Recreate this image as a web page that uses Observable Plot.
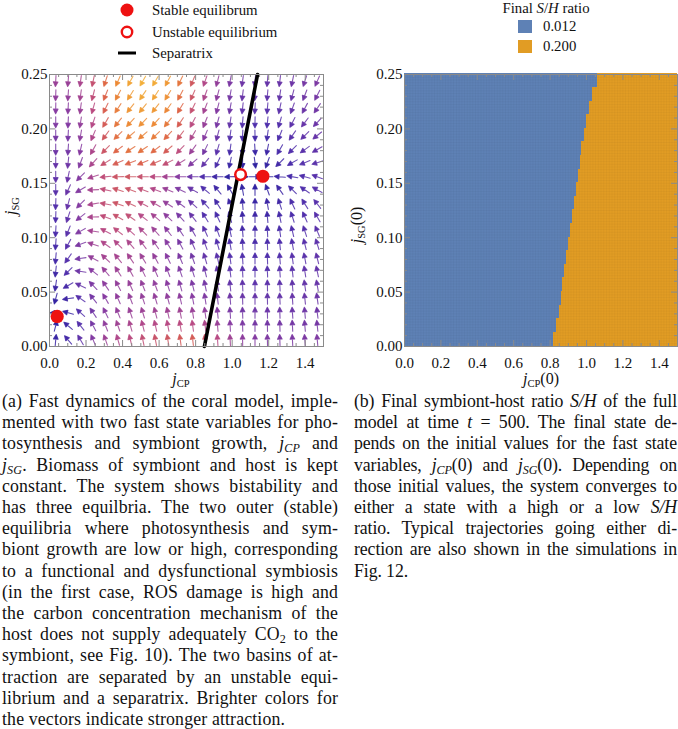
<!DOCTYPE html>
<html><head><meta charset="utf-8">
<script src="https://cdn.jsdelivr.net/npm/d3@7"></script>
<script src="https://cdn.jsdelivr.net/npm/@observablehq/plot@0.6"></script>
<style>
body{margin:0;background:#fff;}
#root{position:relative;width:678px;height:729px;overflow:hidden;font-family:"Liberation Serif","Times New Roman",serif;color:#111;}
.cap{position:absolute;font-size:17.8px;line-height:21.2px;letter-spacing:0.1px;}
.cap div{white-space:nowrap;text-align:justify;text-align-last:justify;}
.cap div.last{text-align-last:left;}
sub{font-size:0.68em;line-height:0;vertical-align:-0.28em;}
.ttl{position:absolute;font-size:16px;white-space:nowrap;}
.ttl sub{font-size:0.66em;font-style:normal;}
</style></head>
<body><div id="root"></div>
<script>
// ---------- data ----------
const gridX = [0.034,0.102,0.170,0.239,0.307,0.375,0.443,0.511,0.580,0.648,0.716,0.784,0.852,0.920,0.989,1.057,1.125,1.193,1.261,1.330,1.398,1.466];
const gridY = [0.006,0.019,0.031,0.044,0.056,0.069,0.081,0.094,0.106,0.119,0.131,0.144,0.156,0.169,0.181,0.194,0.206,0.219,0.231,0.244];
// arrow direction (degrees clockwise from up), rows bottom -> top
const arrowAngle = [
 [5,320,330,337,341,344,346,348,349,350,352,353,354,356,357,359,0,359,358,357,356,355],
 [15,310,322,332,338,341,344,346,347,349,350,352,353,355,357,358,0,359,358,357,355,354],
 [270,285,312,326,334,338,341,343,345,347,349,351,352,354,356,358,0,359,358,356,355,353],
 [195,262,305,322,330,336,339,341,343,345,347,349,351,353,355,358,0,359,357,356,354,352],
 [188,240,295,316,326,332,336,338,340,342,344,346,348,351,354,357,0,359,357,355,352,350],
 [186,225,278,308,320,327,331,334,336,339,341,343,346,349,353,357,0,358,356,354,351,348],
 [185,215,262,298,313,321,326,329,331,334,337,340,343,347,352,356,0,358,355,352,349,346],
 [184,208,250,288,306,315,320,323,325,328,332,336,340,344,350,356,0,358,354,350,346,342],
 [183,202,240,278,298,308,313,316,318,322,326,330,335,340,348,355,0,357,352,347,342,337],
 [182,198,232,268,290,300,305,308,310,313,317,322,328,335,345,355,0,355,348,342,336,330],
 [182,195,225,260,280,290,295,298,300,303,307,312,318,328,340,355,0,350,342,335,328,322],
 [180,205,240,268,282,288,290,290,290,292,295,300,310,320,330,350,0,340,325,315,305,300],
 [180,192,225,252,264,268,270,270,270,270,270,270,270,270,268,90,90,270,275,280,285,290],
 [180,186,200,222,238,246,249,248,246,243,238,230,220,205,192,180,172,200,225,240,248,252],
 [180,184,193,209,224,233,236,236,233,229,223,215,206,196,188,182,176,192,210,225,234,240],
 [180,183,190,203,216,225,229,229,227,223,217,210,203,195,188,183,179,188,202,215,225,231],
 [180,183,189,199,210,219,223,224,222,219,214,208,202,195,189,185,181,186,196,207,217,223],
 [181,183,188,196,206,213,218,219,218,215,211,206,201,195,190,186,183,185,192,200,208,214],
 [182,184,188,194,202,208,212,214,213,211,208,204,200,195,190,187,185,185,189,195,201,207],
 [183,185,188,192,198,204,208,210,210,208,206,203,199,195,191,188,186,185,187,192,198,204]
];
// attraction strength (0 weak .. 1 strong), rows bottom -> top
const arrowStrength = [
 [0.12,0.18,0.30,0.42,0.51,0.57,0.61,0.64,0.67,0.69,0.71,0.72,0.68,0.60,0.52,0.46,0.43,0.41,0.40,0.40,0.40,0.41],
 [0.08,0.14,0.26,0.38,0.47,0.52,0.55,0.57,0.59,0.60,0.61,0.60,0.56,0.50,0.44,0.40,0.38,0.37,0.37,0.37,0.37,0.38],
 [0.05,0.12,0.25,0.36,0.44,0.48,0.50,0.51,0.52,0.52,0.52,0.50,0.47,0.43,0.39,0.36,0.35,0.34,0.34,0.34,0.35,0.35],
 [0.10,0.16,0.27,0.37,0.44,0.47,0.48,0.48,0.48,0.47,0.46,0.44,0.41,0.38,0.35,0.33,0.32,0.31,0.31,0.32,0.33,0.34],
 [0.14,0.21,0.31,0.40,0.46,0.48,0.49,0.48,0.47,0.45,0.43,0.40,0.37,0.34,0.31,0.30,0.29,0.29,0.29,0.30,0.31,0.32],
 [0.16,0.24,0.35,0.44,0.49,0.51,0.51,0.49,0.47,0.44,0.41,0.38,0.34,0.31,0.28,0.27,0.26,0.26,0.27,0.28,0.30,0.31],
 [0.18,0.26,0.38,0.48,0.53,0.54,0.53,0.51,0.48,0.44,0.40,0.36,0.31,0.28,0.25,0.24,0.24,0.24,0.25,0.27,0.28,0.30],
 [0.20,0.27,0.40,0.51,0.57,0.58,0.56,0.53,0.49,0.44,0.39,0.34,0.29,0.25,0.22,0.21,0.21,0.22,0.23,0.25,0.27,0.29],
 [0.22,0.28,0.41,0.53,0.60,0.62,0.60,0.56,0.51,0.45,0.39,0.33,0.27,0.23,0.20,0.18,0.18,0.19,0.21,0.24,0.26,0.28],
 [0.24,0.30,0.42,0.55,0.63,0.66,0.64,0.59,0.53,0.46,0.39,0.32,0.25,0.20,0.17,0.15,0.15,0.16,0.19,0.22,0.25,0.27],
 [0.26,0.32,0.43,0.55,0.64,0.68,0.67,0.62,0.56,0.48,0.40,0.32,0.24,0.18,0.14,0.12,0.12,0.14,0.17,0.21,0.24,0.27],
 [0.28,0.33,0.43,0.54,0.63,0.68,0.68,0.64,0.58,0.50,0.41,0.32,0.23,0.15,0.10,0.08,0.08,0.10,0.15,0.20,0.24,0.27],
 [0.30,0.34,0.43,0.54,0.63,0.68,0.69,0.66,0.61,0.53,0.44,0.34,0.24,0.15,0.07,0.03,0.04,0.06,0.14,0.20,0.24,0.27],
 [0.32,0.35,0.43,0.55,0.66,0.73,0.76,0.75,0.71,0.64,0.54,0.42,0.31,0.21,0.13,0.08,0.07,0.10,0.17,0.22,0.26,0.28],
 [0.35,0.37,0.44,0.56,0.68,0.77,0.81,0.81,0.78,0.72,0.62,0.50,0.38,0.28,0.20,0.15,0.13,0.15,0.20,0.25,0.28,0.30],
 [0.38,0.39,0.46,0.57,0.70,0.80,0.85,0.86,0.84,0.78,0.68,0.56,0.44,0.34,0.26,0.21,0.18,0.19,0.23,0.27,0.30,0.32],
 [0.41,0.42,0.48,0.59,0.72,0.82,0.88,0.90,0.88,0.83,0.73,0.61,0.49,0.39,0.31,0.26,0.23,0.23,0.26,0.29,0.32,0.34],
 [0.44,0.45,0.50,0.61,0.74,0.84,0.91,0.93,0.92,0.87,0.77,0.65,0.53,0.43,0.35,0.30,0.27,0.27,0.29,0.31,0.34,0.36],
 [0.47,0.48,0.53,0.63,0.76,0.86,0.93,0.96,0.95,0.90,0.80,0.68,0.56,0.46,0.38,0.33,0.30,0.30,0.31,0.33,0.36,0.38],
 [0.50,0.50,0.55,0.65,0.78,0.88,0.95,0.98,0.97,0.92,0.82,0.70,0.58,0.48,0.40,0.35,0.32,0.32,0.33,0.35,0.38,0.40]
];
const stableX = [0.042, 1.168];
const stableY = [0.0276, 0.1565];
const unstableX = [1.046];
const unstableY = [0.158];
const separatrixX = [0.848, 1.139];
const separatrixY = [0.0, 0.25];
// panel b: band edges in jSG(0) and the jCP(0) threshold in each band
const bandEdges = [0,0.0125,0.025,0.0375,0.05,0.0625,0.075,0.0875,0.1,0.1125,0.125,0.1375,0.15,0.1625,0.175,0.1875,0.2,0.2125,0.225,0.2375,0.25];
const boundaryX = [0.82,0.835,0.85,0.86,0.87,0.88,0.89,0.90,0.91,0.925,0.935,0.945,0.955,0.965,0.975,0.99,1.00,1.015,1.035,1.06];
const ratioLabels = ["0.012","0.200"];
const ratioColors = ["#5E81B5","#E19C24"];
const xTicks = [0,0.2,0.4,0.6,0.8,1.0,1.2,1.4];
const xMinor = [0.05,0.1,0.15,0.25,0.3,0.35,0.45,0.5,0.55,0.65,0.7,0.75,0.85,0.9,0.95,1.05,1.1,1.15,1.25,1.3,1.35,1.45,1.5];
const yTicks = [0,0.05,0.10,0.15,0.20,0.25];
const yMinor = [0.01,0.02,0.03,0.04,0.06,0.07,0.08,0.09,0.11,0.12,0.13,0.14,0.16,0.17,0.18,0.19,0.21,0.22,0.23,0.24];
const colorStops = [0,0.25,0.45,0.6,0.75,0.88,1];
const colorRange = ["#221c9c","#5230ac","#8a3ca0","#b84a84","#db604c","#ec8a36","#f4b63a"];

// ---------- build ----------
const field = [];
gridY.forEach((y, j) => gridX.forEach((x, i) => field.push({x, y, a: arrowAngle[j][i], m: arrowStrength[j][i]})));
const stable = stableX.map((x, i) => ({x, y: stableY[i]}));
const unstable = unstableX.map((x, i) => ({x, y: unstableY[i]}));
const separatrix = separatrixX.map((x, i) => ({x, y: separatrixY[i]}));
const bands = boundaryX.map((t, j) => ({y1: bandEdges[j], y2: bandEdges[j+1], t}));

const root = document.getElementById("root");
const F = '"Liberation Serif","Times New Roman",serif';
const frameCol = "#8a8a8a";

const arrowShape = {
  draw(context, l) {
    const h = 4.6, w = 2.3;
    context.moveTo(0, 0);
    context.lineTo(0, -l + h);
    context.moveTo(-w, -l + h);
    context.lineTo(0, -l);
    context.lineTo(w, -l + h);
    context.closePath();
  }
};

function tickMarks(W, H) {
  return [
    Plot.tickX(xTicks, {x: d => d, insetTop: H - 6, stroke: frameCol}),
    Plot.tickX(xMinor, {x: d => d, insetTop: H - 3, stroke: frameCol}),
    Plot.tickX(xTicks, {x: d => d, insetBottom: H - 6, stroke: frameCol}),
    Plot.tickX(xMinor, {x: d => d, insetBottom: H - 3, stroke: frameCol}),
    Plot.tickY(yTicks, {y: d => d, insetRight: W - 6, stroke: frameCol}),
    Plot.tickY(yMinor, {y: d => d, insetRight: W - 3, stroke: frameCol}),
    Plot.tickY(yTicks, {y: d => d, insetLeft: W - 6, stroke: frameCol}),
    Plot.tickY(yMinor, {y: d => d, insetLeft: W - 3, stroke: frameCol}),
    Plot.frame({stroke: frameCol}),
    Plot.axisX(xTicks, {tickSize: 0, tickPadding: 11, tickFormat: d3.format(".1f"), label: null, fontSize: 15, fontFamily: F}),
    Plot.axisY(yTicks, {tickSize: 0, tickPadding: 2, tickFormat: d3.format(".2f"), label: null, fontSize: 15, fontFamily: F})
  ];
}

// Left plot
const left = Plot.plot({
  width: 340, height: 320, marginLeft: 49, marginRight: 17, marginTop: 14, marginBottom: 34,
  x: {domain: [0, 1.5], axis: null},
  y: {domain: [0, 0.25], axis: null},
  color: {type: "linear", domain: colorStops, range: colorRange},
  style: {fontFamily: F, fontSize: "15px", background: "transparent", color: "#111", overflow: "visible"},
  marks: [
    Plot.vector(field, {x: "x", y: "y", rotate: "a", length: 11, stroke: "m", fill: "m", shape: arrowShape, anchor: "middle", strokeWidth: 1.1, strokeOpacity: 0.85}),
    Plot.line(separatrix, {x: "x", y: "y", stroke: "black", strokeWidth: 3.6}),
    Plot.dot(stable, {x: "x", y: "y", r: 6.6, fill: "#ee1111"}),
    Plot.dot(unstable, {x: "x", y: "y", r: 5.3, fill: "white", stroke: "#ee1111", strokeWidth: 2.5}),
    ...tickMarks(274, 272)
  ]
});
left.style.position = "absolute"; left.style.left = "0px"; left.style.top = "60px";
root.appendChild(left);

// Right plot
const right = Plot.plot({
  width: 338, height: 320, marginLeft: 64, marginRight: 1, marginTop: 14, marginBottom: 34,
  x: {domain: [0, 1.5], axis: null},
  y: {domain: [0, 0.25], axis: null},
  style: {fontFamily: F, fontSize: "15px", background: "transparent", color: "#111", overflow: "visible"},
  marks: [
    Plot.rect(bands, {x1: () => 0, x2: "t", y1: "y1", y2: "y2", fill: ratioColors[0], insetTop: -0.6, insetBottom: -0.6, shapeRendering: "crispEdges"}),
    Plot.rect(bands, {x1: "t", x2: () => 1.5, y1: "y1", y2: "y2", fill: ratioColors[1], insetTop: -0.6, insetBottom: -0.6, shapeRendering: "crispEdges"}),
    Plot.gridX({interval: 0.015, stroke: "#000", strokeOpacity: 0.06, strokeWidth: 0.5}),
    Plot.gridY({interval: 0.0025, stroke: "#000", strokeOpacity: 0.06, strokeWidth: 0.5}),
    ...tickMarks(273, 272)
  ]
});
right.style.position = "absolute"; right.style.left = "340px"; right.style.top = "60px";
root.appendChild(right);

// Legends
const legL = document.createElementNS("http://www.w3.org/2000/svg", "svg");
legL.setAttribute("width", 340); legL.setAttribute("height", 62);
legL.setAttribute("style", "position:absolute;left:0;top:0;font-family:'Liberation Serif','Times New Roman',serif;font-size:14.8px;");
legL.innerHTML = `
<circle cx="127" cy="10" r="6.5" fill="#ee1111"/>
<text x="152" y="14.5" fill="#111">Stable equilibrum</text>
<circle cx="127" cy="32" r="5.2" fill="white" stroke="#ee1111" stroke-width="2.4"/>
<text x="152" y="36.5" fill="#111">Unstable equilibrium</text>
<line x1="118" x2="136" y1="53" y2="53" stroke="black" stroke-width="3"/>
<text x="152" y="57.5" fill="#111">Separatrix</text>`;
root.appendChild(legL);

const legR = document.createElementNS("http://www.w3.org/2000/svg", "svg");
legR.setAttribute("width", 338); legR.setAttribute("height", 62);
legR.setAttribute("style", "position:absolute;left:340px;top:0;font-family:'Liberation Serif','Times New Roman',serif;font-size:14.8px;");
legR.innerHTML = `
<text x="206" y="13" text-anchor="middle" fill="#111">Final <tspan font-style="italic">S</tspan>/<tspan font-style="italic">H</tspan> ratio</text>
<rect x="178" y="20" width="14" height="13" fill="${ratioColors[0]}"/>
<text x="203" y="31" fill="#111">${ratioLabels[0]}</text>
<rect x="178" y="40" width="14" height="13" fill="${ratioColors[1]}"/>
<text x="203" y="51" fill="#111">${ratioLabels[1]}</text>`;
root.appendChild(legR);

// Axis titles
function addTitle(html, x, y, rot) {
  const d = document.createElement("div");
  d.className = "ttl";
  d.innerHTML = html;
  d.style.left = x + "px"; d.style.top = y + "px";
  d.style.transform = "translate(-50%,-50%)" + (rot ? " rotate(-90deg)" : "");
  root.appendChild(d);
}
addTitle('<i>j</i><sub>CP</sub>', 181, 379, false);
addTitle('<i>j</i><sub>SG</sub>', 11, 206, true);
addTitle('<i>j</i><sub>CP</sub>(0)', 541, 379, false);
addTitle('<i>j</i><sub>SG</sub>(0)', 357, 225, true);

// Captions
const capA = [
 "(a) Fast dynamics of the coral model, imple-",
 "mented with two fast state variables for pho-",
 "tosynthesis and symbiont growth, <i>j<sub>CP</sub></i> and",
 "<i>j<sub>SG</sub></i>. Biomass of symbiont and host is kept",
 "constant. The system shows bistability and",
 "has three equilbria. The two outer (stable)",
 "equilibria where photosynthesis and sym-",
 "biont growth are low or high, corresponding",
 "to a functional and dysfunctional symbiosis",
 "(in the first case, ROS damage is high and",
 "the carbon concentration mechanism of the",
 "host does not supply adequately CO<sub>2</sub> to the",
 "symbiont, see Fig. 10). The two basins of at-",
 "traction are separated by an unstable equi-",
 "librium and a separatrix. Brighter colors for",
 "the vectors indicate stronger attraction."
];
const capB = [
 "(b) Final symbiont-host ratio <i>S/H</i> of the full",
 "model at time <i>t</i> = 500. The final state de-",
 "pends on the initial values for the fast state",
 "variables, <i>j<sub>CP</sub></i>(0) and <i>j<sub>SG</sub></i>(0). Depending on",
 "those initial values, the system converges to",
 "either a state with a high or a low <i>S/H</i>",
 "ratio. Typical trajectories going either di-",
 "rection are also shown in the simulations in",
 "Fig. 12."
];
function addCaption(lines, x, w, ls) {
  const c = document.createElement("div");
  c.className = "cap";
  c.style.left = x + "px"; c.style.top = "391px"; c.style.width = w + "px";
  c.style.letterSpacing = ls + "px";
  lines.forEach((t, i) => {
    const d = document.createElement("div");
    d.innerHTML = t;
    if (i === lines.length - 1) d.className = "last";
    c.appendChild(d);
  });
  root.appendChild(c);
}
addCaption(capA, 2, 336, 0.15);
addCaption(capB, 354, 323, -0.1);
</script>
</body></html>
